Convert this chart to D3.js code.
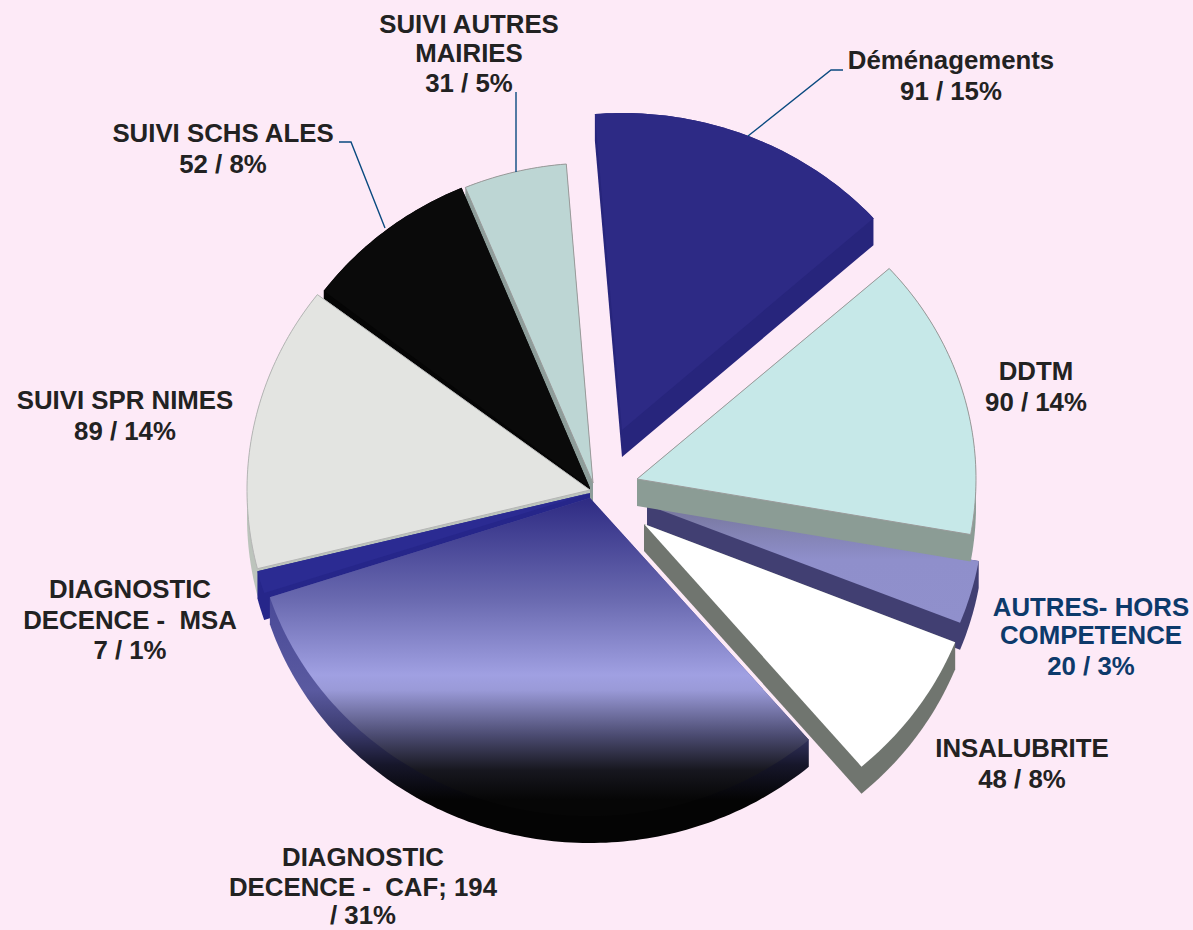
<!DOCTYPE html>
<html><head><meta charset="utf-8">
<script src="https://cdnjs.cloudflare.com/ajax/libs/d3/7.8.5/d3.min.js"></script>
<style>html,body{margin:0;padding:0;background:#fdeaf7;overflow:hidden}svg{display:block}</style>
</head><body><svg id="c" width="1193" height="930"></svg>
<script>
const categories = ["Déménagements","DDTM","AUTRES- HORS COMPETENCE","INSALUBRITE","DIAGNOSTIC DECENCE - CAF","DIAGNOSTIC DECENCE - MSA","SUIVI SPR NIMES","SUIVI SCHS ALES","SUIVI AUTRES MAIRIES"];
const values = [91,90,20,48,194,7,89,52,31];
const labelLines = [
  ["Déménagements","91 / 15%"],
  ["DDTM","90 / 14%"],
  ["AUTRES- HORS","COMPETENCE","20 / 3%"],
  ["INSALUBRITE","48 / 8%"],
  ["DIAGNOSTIC","DECENCE -  CAF; 194","/ 31%"],
  ["DIAGNOSTIC","DECENCE -  MSA","7 / 1%"],
  ["SUIVI SPR NIMES","89 / 14%"],
  ["SUIVI SCHS ALES","52 / 8%"],
  ["SUIVI AUTRES","MAIRIES","31 / 5%"]
];

const W = 1193, H = 930, depth = 27;
const startDeg = -4.6;
// per-slice layout (apex of the exploded slice, radii)
const layout = [
  {ax:622,ay:430,rx:338,ry:317},
  {ax:637,ay:479,rx:339,ry:315},
  {ax:647,ay:505,rx:337,ry:318},
  {ax:644,ay:524,rx:335,ry:319},
  {ax:590,ay:498,rx:337,ry:318},
  {ax:590,ay:493,rx:343,ry:320},
  {ax:590,ay:490,rx:343,ry:322},
  {ax:590,ay:488,rx:335,ry:325},
  {ax:593,ay:483,rx:333,ry:320}
];
const tops  = ["#2d2a85","#c6e8e8","url(#gAutres)","#ffffff","url(#gCaf)","#2b2b92","#e3e4e1","#0a0a0a","#bdd6d4"];
const walls = ["#27257c","#8b9c95","#413f72","#70756f","url(#gCafWall)","#26268a","#bcc4bc","#050505","#8d9d9a"];
const outlines = ["none","#9a9a9a","none","none","none","none","#b5b5b5","none","#9a9a9a"];
const drawOrder = [0,8,7,6,5,4,2,3,1];
const labelX = [951,1036,1091,1022,363,130,125,223,469];
const labelY = [69,380,616,757,866,598,409,142,33];
const labelStep = [[31],[31],[28,31],[31],[30,28],[31,30],[31],[31],[29,30]];
const labelColor = i => i===2 ? "#0d3a6b" : "#222222";
const leaders = [
  [[748,136],[831,70],[843,70]],
  [[385,228],[351,142],[339,142]],
  [[516,172],[516,92]]
];

const svg = d3.select("#c");
const defs = svg.append("defs");
function grad(id, stops){
  const g = defs.append("linearGradient").attr("id",id).attr("gradientUnits","userSpaceOnUse")
    .attr("x1",0).attr("x2",0).attr("y1",0).attr("y2",H);
  stops.forEach(([y,c])=>g.append("stop").attr("offset",y/H).attr("stop-color",c));
}
grad("gCaf",[[500,"#2f2c84"],[600,"#6a6ab0"],[675,"#a0a0e2"],[690,"#9a9ad8"],[735,"#4c4c72"],[770,"#17171f"],[800,"#060606"]]);
grad("gCafWall",[[600,"#4a4a98"],[690,"#5a5aa0"],[730,"#3c3c70"],[765,"#16162a"],[800,"#040404"]]);
grad("gAutres",[[510,"#78789f"],[560,"#8f8fcb"],[625,"#9090cc"]]);

const pie = d3.pie().value(d=>d).sort(null)
  .startAngle(startDeg*Math.PI/180).endAngle(startDeg*Math.PI/180+2*Math.PI);
const arcs = pie(values);
const line = d3.line();

function slicePoints(a, l){
  const n = Math.max(8, Math.ceil((a.endAngle-a.startAngle)*180/Math.PI));
  const scaleT = d3.scaleLinear().domain([0,n]).range([a.startAngle,a.endAngle]);
  const pts = [[l.ax,l.ay]];
  d3.range(n+1).forEach(i=>{
    const t = scaleT(i);
    pts.push([l.ax+l.rx*Math.sin(t), l.ay-l.ry*Math.cos(t)]);
  });
  return pts;
}

drawOrder.forEach(i=>{
  const a = arcs[i], l = layout[i];
  const pts = slicePoints(a,l);
  const shifted = pts.concat(pts.map(p=>[p[0],p[1]+depth]));
  const hull = d3.polygonHull(shifted);
  const g = svg.append("g").attr("class","slice").attr("data-name",categories[i]);
  g.append("path").attr("d",line(hull)+"Z").attr("fill",walls[i]);
  g.append("path").attr("d",line(pts)+"Z").attr("fill",tops[i])
    .attr("stroke",outlines[i]).attr("stroke-width",outlines[i]==="none"?0:1);
});

leaders.forEach(p=>{
  svg.append("path").attr("d",line(p)).attr("fill","none")
    .attr("stroke","#0a4a80").attr("stroke-width",1.4);
});

labelLines.forEach((lines,i)=>{
  let y = labelY[i];
  lines.forEach((t,k)=>{
    if(k>0) y += labelStep[i][k-1];
    svg.append("text").attr("x",labelX[i]).attr("y",y).attr("text-anchor","middle")
      .attr("font-family","'Liberation Sans',Arial,sans-serif").attr("font-weight","bold")
      .attr("font-size",25.8).attr("fill",labelColor(i)).attr("xml:space","preserve")
      .style("white-space","pre").text(t);
  });
});
</script></body></html>
